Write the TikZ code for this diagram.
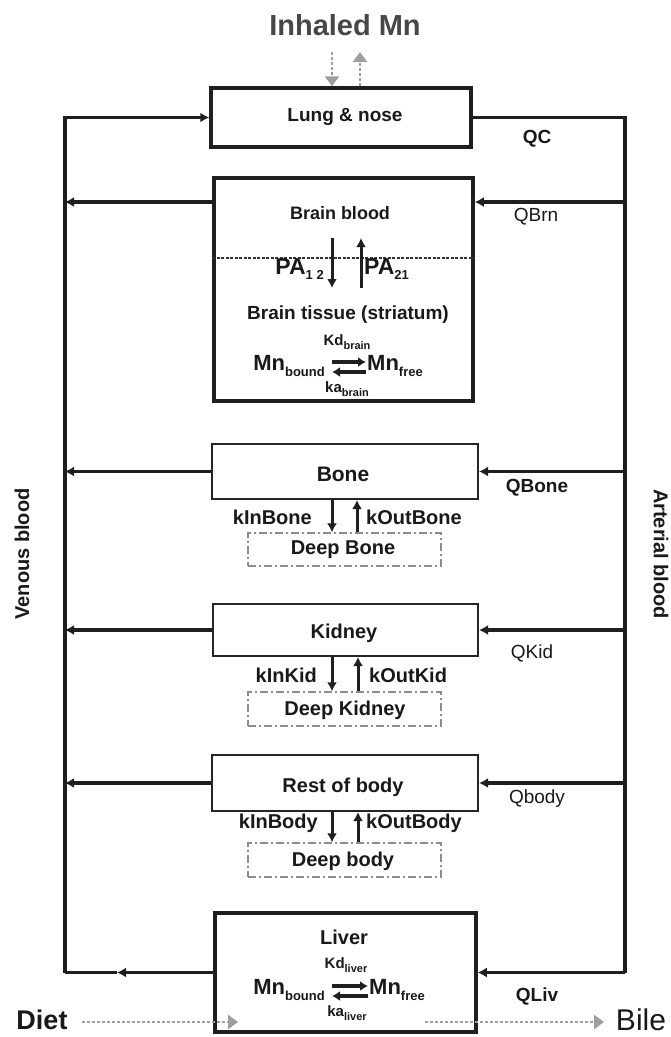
\documentclass[tikz,border=0pt]{standalone}
\usepackage{fontspec}
\setmainfont{Liberation Sans}
\usetikzlibrary{arrows.meta}
\newcommand{\sbs}[2][11]{\raisebox{-0.45ex}{\fontsize{#1}{#1}\selectfont #2}}
\begin{document}
\begin{tikzpicture}[x=1pt,y=-1pt,
  thickbox/.style={draw=black!88, line width=3.5pt, inner sep=0, anchor=center},
  thinbox/.style={draw=black!85, line width=2pt, inner sep=0, anchor=center},
  deepbox/.style={draw=black!45, line width=1.4pt, dash pattern=on 8pt off 3pt on 2pt off 3pt, inner sep=0, anchor=center},
  flow/.style={draw=black!88, line width=3.5pt},
  tipped/.style={flow, -{Latex[length=9pt,width=10pt]}},
  varr/.style={draw=black!88, line width=3pt, -{Latex[length=9pt,width=10pt]}},
  eqarr/.style={draw=black!88, line width=4pt, -{Latex[length=8pt,width=10pt]}},
  gdot/.style={draw=black!38, line width=2.8pt, dash pattern=on 3pt off 2pt, -{Triangle[length=10pt,width=14pt]}},
  lbl/.style={font=\bfseries\fontsize{19}{19}\selectfont, text=black!90, inner sep=0},
  rlbl/.style={font=\bfseries\fontsize{19}{19}\selectfont, text=black!90, inner sep=0},
  qb/.style={font=\bfseries\fontsize{19}{19}\selectfont, text=black!90, inner sep=0},
  qr/.style={font=\fontsize{19}{19}\selectfont, text=black!90, inner sep=0},
  kl/.style={font=\bfseries\fontsize{20}{20}\selectfont, text=black!90, inner sep=0},
  mn/.style={font=\bfseries\fontsize{22}{22}\selectfont, text=black!90, inner sep=0},
  sk/.style={font=\bfseries\fontsize{15}{15}\selectfont, text=black!90, inner sep=0}
]
\useasboundingbox (0,0) rectangle (671,1037);

% compartments
\node[thickbox, minimum width=260, minimum height=59] (lung) at (341,117.5) {};
\node[thickbox, minimum width=259, minimum height=223] (brain) at (343.5,289.5) {};
\node[thinbox, minimum width=266, minimum height=55] (bone) at (345,471.5) {};
\node[thinbox, minimum width=265, minimum height=52] (kid) at (345.5,630) {};
\node[thinbox, minimum width=266, minimum height=56] (body) at (345,783) {};
\node[thickbox, minimum width=261, minimum height=119] (liver) at (345.5,972.5) {};
\node[deepbox, minimum width=193, minimum height=33] (dbone) at (344.5,549.5) {};
\node[deepbox, minimum width=193, minimum height=34] (dkid) at (344.5,709) {};
\node[deepbox, minimum width=193, minimum height=34] (dbody) at (344.5,860) {};

% labels in boxes
\node[lbl] (tlung) at (345,117) {Lung \& nose};
\node[lbl, font=\bfseries\fontsize{18}{18}\selectfont] (tbb) at (340,213) {Brain blood};
\node[lbl] (tbt) at (348,315) {Brain tissue (striatum)};
\node[rlbl, font=\bfseries\fontsize{21}{21}\selectfont] (tbone) at (343,474) {Bone};
\node[rlbl, font=\bfseries\fontsize{20}{20}\selectfont] (tdbone) at (343,550) {Deep Bone};
\node[lbl, font=\bfseries\fontsize{20}{20}\selectfont] (tkid) at (344,633) {Kidney};
\node[rlbl, font=\bfseries\fontsize{20}{20}\selectfont] (tdkid) at (345,710) {Deep Kidney};
\node[rlbl, font=\bfseries\fontsize{20}{20}\selectfont] (tbody) at (343,787) {Rest of body};
\node[rlbl, font=\bfseries\fontsize{20}{20}\selectfont] (tdbody) at (343,861) {Deep body};
\node[lbl, font=\bfseries\fontsize{20}{20}\selectfont] (tliver) at (344,937) {Liver};

% brain internals
\coordinate (dl) at (brain.west |- 0,258);
\coordinate (dr) at (brain.east |- 0,258);
\draw[draw=black!80, line width=2.2pt, dash pattern=on 3pt off 1.5pt] (dl) -- (dr);
\coordinate (pa1t) at (332,238);
\coordinate (pa1b) at (332,288);
\coordinate (pa2t) at (361,238);
\coordinate (pa2b) at (361,288);
\draw[varr] (pa1t) -- (pa1b);
\draw[varr] (pa2b) -- (pa2t);
\node[mn, font=\bfseries\fontsize{23}{23}\selectfont, anchor=east] (pa12) at (324,269) {PA\sbs[13]{1 2}};
\node[mn, font=\bfseries\fontsize{23}{23}\selectfont, anchor=west] (pa21) at (364,269) {PA\sbs[13]{21}};

\node[sk] (kdb) at (347,342) {Kd\sbs[11]{brain}};
\node[mn, anchor=east] (mbb) at (325,366) {Mn\sbs[13]{bound}};
\node[mn, anchor=west] (mfb) at (367,366) {Mn\sbs[13]{free}};
\draw[eqarr] ([xshift=7,yshift=4]mbb.east) -- ([xshift=-1,yshift=4]mfb.west);
\draw[eqarr] ([xshift=-1,yshift=-6]mfb.west) -- ([xshift=7,yshift=-6]mbb.east);
\node[sk] (kab) at (347,389) {ka\sbs[11]{brain}};

% liver internals
\node[sk] (kdl) at (346,965) {Kd\sbs[11]{liver}};
\node[mn, anchor=east] (mbl) at (325,990) {Mn\sbs[13]{bound}};
\node[mn, anchor=west] (mfl) at (369,990) {Mn\sbs[13]{free}};
\draw[eqarr] ([xshift=7,yshift=4]mbl.east) -- ([xshift=-1,yshift=4]mfl.west);
\draw[eqarr] ([xshift=-1,yshift=-6]mfl.west) -- ([xshift=7,yshift=-6]mbl.east);
\node[sk] (kal) at (347,1013) {ka\sbs[11]{liver}};

% deep exchange arrows
\draw[varr] (bone.south -| 332,0) -- (dbone.north -| 332,0);
\draw[varr] (dbone.north -| 357,0) -- (bone.south -| 357,0);
\draw[varr] (kid.south -| 332,0) -- (dkid.north -| 332,0);
\draw[varr] (dkid.north -| 358,0) -- (kid.south -| 358,0);
\draw[varr] (body.south -| 332,0) -- (dbody.north -| 332,0);
\draw[varr] (dbody.north -| 358,0) -- (body.south -| 358,0);
\node[kl, anchor=east] (kib) at (312,517) {kInBone};
\node[kl, anchor=west] (kob) at (366,517) {kOutBone};
\node[kl, anchor=east] (kik) at (317,675) {kInKid};
\node[kl, anchor=west] (kok) at (369,675) {kOutKid};
\node[kl, anchor=east] (kiy) at (318,823) {kInBody};
\node[kl, anchor=west] (koy) at (366,823) {kOutBody};

% blood lines
\coordinate (vtop) at (65,117.5);
\coordinate (vbot) at (65,972.5);
\coordinate (atop) at (625,117.5);
\coordinate (abot) at (625,972.5);
\coordinate (vB) at (65,202);
\coordinate (aB) at (625,202);
\coordinate (lm) at (117,972.5);

\draw[tipped] (vbot) -- (vtop) -- (lung.west);
\draw[flow] (lung.east) -- (atop) -- (abot);
\draw[tipped] (abot) -- (liver.east);
\draw[tipped] (liver.west) -- (lm);
\draw[flow] (lm) -- (vbot);

\draw[tipped] (aB) -- (aB -| brain.east);
\draw[tipped] (vB -| brain.west) -- (vB);
\draw[tipped] (atop |- bone.east) -- (bone.east);
\draw[tipped] (bone.west) -- (vtop |- bone.west);
\draw[tipped] (atop |- kid.east) -- (kid.east);
\draw[tipped] (kid.west) -- (vtop |- kid.west);
\draw[tipped] (atop |- body.east) -- (body.east);
\draw[tipped] (body.west) -- (vtop |- body.west);

% flow labels
\node[qb] (qc) at (537,139) {QC};
\node[qr] (qbrn) at (536,217) {QBrn};
\node[qb] (qbone) at (537,488) {QBone};
\node[qr] (qkid) at (532,653) {QKid};
\node[qr] (qbody) at (537,799) {Qbody};
\node[qb] (qliv) at (537,996) {QLiv};

\node[lbl, font=\bfseries\fontsize{20}{20}\selectfont, rotate=90] (venous) at (22,554) {Venous blood};
\node[lbl, font=\bfseries\fontsize{20}{20}\selectfont, rotate=-90] (arterial) at (661,554) {Arterial blood};

% external
\node[font=\bfseries\fontsize{29}{29}\selectfont, text=black!72, inner sep=0] (inh) at (345,25) {Inhaled Mn};
\coordinate (i1t) at (332,52);
\coordinate (i2t) at (360,52);
\draw[gdot] (i1t) -- (lung.north -| i1t);
\draw[gdot] (lung.north -| i2t) -- (i2t);

\node[font=\bfseries\fontsize{27}{27}\selectfont, text=black!90, inner sep=0] (diet) at (42,1020) {Diet};
\node[font=\fontsize{30}{30}\selectfont, text=black!90, inner sep=0] (bile) at (641,1020) {Bile};
\coordinate (d1) at (82,1022);
\coordinate (d2) at (238,1022);
\coordinate (b1) at (425,1022);
\coordinate (b2) at (604,1022);
\draw[gdot] (d1) -- (d2);
\draw[gdot] (b1) -- (b2);
\end{tikzpicture}
\end{document}
